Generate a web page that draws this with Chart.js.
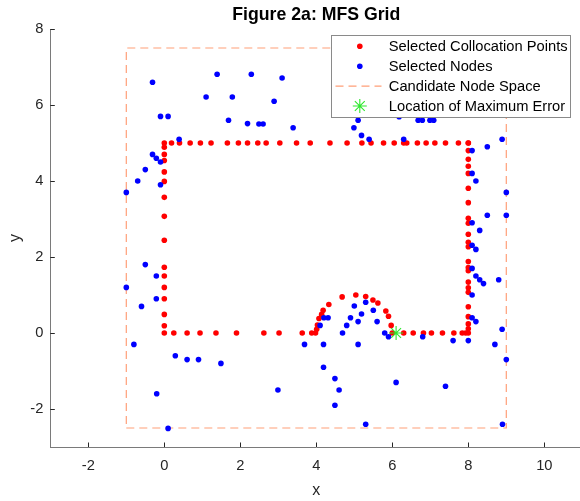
<!DOCTYPE html>
<html>
<head>
<meta charset="utf-8">
<script src="https://cdn.jsdelivr.net/npm/chart.js@4.4.1/dist/chart.umd.min.js"></script>
<style>
html,body{margin:0;padding:0;background:#fff;overflow:hidden;}
#wrap{width:584px;height:501px;}
</style>
</head>
<body>
<div id="wrap"><canvas id="c" width="584" height="501"></canvas></div>
<script>
// ---- Data ----
const titleText = "Figure 2a: MFS Grid";
const seriesLabels = ["Selected Collocation Points", "Selected Nodes", "Candidate Node Space", "Location of Maximum Error"];
const xTicks = [-2, 0, 2, 4, 6, 8, 10];
const yTicks = [-2, 0, 2, 4, 6, 8];

const collocX = [
  0.0, 0.19, 0.4, 0.68, 0.95, 1.23, 1.66, 1.95, 2.19, 2.46, 2.68, 3.04, 3.48, 3.84, 4.36, 4.81, 5.2, 5.44, 5.77, 6.05, 6.3, 6.38, 6.66, 6.89, 7.12, 7.4, 7.74, 8.0,
  0, 0, 0, 0, 0, 0, 0, 0, 0, 0, 0, 0, 0, 0, 0,
  0.25, 0.6, 0.94, 1.36, 1.9, 2.62, 3.02, 3.63, 3.88, 3.98,
  4.01, 4.03, 4.07, 4.14, 4.18, 4.33, 4.68, 5.04, 5.3, 5.49, 5.62, 5.83, 5.9, 5.97, 6.0,
  6.3, 6.55, 6.82, 7.03, 7.32, 7.62, 7.84, 7.93,
  8, 8, 8, 8, 8, 8, 8, 8, 8, 8, 8, 8, 8, 8, 8, 8, 8, 8, 8, 8, 8, 8, 8
];
const collocY = [
  5, 5, 5, 5, 5, 5, 5, 5, 5, 5, 5, 5, 5, 5, 5, 5, 5, 5, 5, 5, 5, 5, 5, 5, 5, 5, 5, 5,
  4.89, 4.7, 4.54, 4.24, 3.99, 3.57, 3.07, 2.44, 1.73, 1.5, 1.2, 0.9, 0.49, 0.19, 0,
  0, 0, 0, 0, 0, 0, 0, 0, 0, 0,
  0.1, 0.21, 0.38, 0.49, 0.6, 0.75, 0.95, 1.0, 0.96, 0.87, 0.79, 0.58, 0.44, 0.2, 0,
  0, 0, 0, 0, 0, 0, 0, 0,
  4.8, 4.57, 4.39, 4.2, 3.81, 3.43, 3.02, 2.89, 2.6, 2.39, 2.27, 1.88, 1.72, 1.64, 1.34, 1.19, 1.07, 0.69, 0.43, 0.24, 0.11, 0, 5
];

const nodeX = [
  -0.31, 1.39, 2.29, 3.1, 1.1, 1.79, 2.89, -0.1, 0.1, 1.69, 2.19, 2.49, 2.6, 3.39, 0.39, -0.31, -0.21, -0.1, -0.5, -0.7, -0.1,
  5.1, 4.99, 5.19, 5.39, 6.3, 6.18, 6.68, 6.79, 6.99, 7.09, 8.5, 8.89, 8.1, 8.1, 8.2,
  -1.0, -0.5, -0.21, -1.0, -0.21, -0.6,
  9.0, 9.0, 8.5, 8.1, 8.3, 8.1, 8.2, 8.1, 8.2, 8.3, 8.4, 8.8, 8.1, 8.1, 8.2, 8.89,
  4.1, 4.2, 4.31, 4.69, 4.8, 4.9, 5.0, 5.1, 5.19, 5.3, 5.5, 5.6, 5.8, 5.9, 6.8, 7.6, 8.0,
  -0.8, 0.29, 0.6, 0.9, 1.49, -0.2, 0.1, 2.99, 3.69, 4.19, 5.1, 8.7, 9.0, 4.19, 4.49, 4.6, 4.49, 5.3, 6.1, 7.4, 8.9
];
const nodeY = [
  6.6, 6.81, 6.81, 6.71, 6.21, 6.21, 6.1, 5.7, 5.7, 5.6, 5.51, 5.5, 5.5, 5.4, 5.1, 4.7, 4.6, 4.5, 4.3, 4.0, 3.9,
  5.6, 5.4, 5.2, 5.1, 5.1, 5.69, 5.6, 5.6, 5.6, 5.6, 4.9, 5.1, 4.8, 4.2, 4.0,
  3.7, 1.8, 1.5, 1.2, 0.9, 0.7,
  3.7, 3.1, 3.1, 2.9, 2.7, 2.31, 2.2, 1.7, 1.5, 1.4, 1.3, 1.4, 1.0, 0.4, 0.3, 0.1,
  0.2, 0.4, 0.4, 0.0, 0.2, 0.4, 0.71, 0.3, 0.5, 0.81, 0.6, 0.3, 0.0, -0.1, -0.1, -0.2, -0.2,
  -0.3, -0.6, -0.7, -0.7, -0.8, -1.6, -2.51, -1.5, -0.3, -0.3, -0.3, -0.3, -0.7, -0.9, -1.2, -1.5, -1.9, -2.4, -1.3, -1.4, -2.4
];

const spaceX = [-1, 9, 9, -1, -1];
const spaceY = [-2.5, -2.5, 7.5, 7.5, -2.5];

const maxErrX = [6.1];
const maxErrY = [0];

// ---- Build ----
const toPts = (xs, ys) => xs.map((x, i) => ({x: x, y: ys[i]}));

const RED = '#ff0000', BLUE = '#0000ff', SALMON = '#ff9f78', GREEN = '#2ee82e';
const FONT = "'Liberation Sans', Arial, Helvetica, sans-serif";

const styleInfo = [
  {kind: 'dot', color: RED},
  {kind: 'dot', color: BLUE},
  {kind: 'dash', color: SALMON},
  {kind: 'star', color: GREEN}
];

const inwardTicks = {
  id: 'inwardTicks',
  afterDatasetsDraw(chart) {
    const ctx = chart.ctx, a = chart.chartArea;
    const xs = chart.scales.x, ys = chart.scales.y;
    ctx.save();
    ctx.strokeStyle = '#262626';
    ctx.lineWidth = 1;
    ctx.beginPath();
    xTicks.forEach(v => {
      const p = Math.round(xs.getPixelForValue(v)) + 0.5;
      ctx.moveTo(p, a.bottom); ctx.lineTo(p, a.bottom - 4.5);
    });
    yTicks.forEach(v => {
      const p = Math.round(ys.getPixelForValue(v)) + 0.5;
      ctx.moveTo(a.left, p); ctx.lineTo(a.left + 4.5, p);
    });
    ctx.stroke();
    ctx.restore();
  }
};

const titleAndLegend = {
  id: 'titleAndLegend',
  afterDraw(chart) {
    const ctx = chart.ctx, a = chart.chartArea;
    ctx.save();
    // title
    ctx.fillStyle = '#000';
    ctx.font = "bold 17.7px " + FONT;
    ctx.textAlign = 'center';
    ctx.textBaseline = 'middle';
    ctx.fillText(titleText, (a.left + a.right) / 2, 15);
    // legend box
    const bx = a.right - 251.5, by = a.top + 6, bw = 239, bh = 82;
    ctx.fillStyle = '#fff';
    ctx.fillRect(bx, by, bw, bh);
    ctx.strokeStyle = '#8a8a8a';
    ctx.lineWidth = 1;
    ctx.strokeRect(Math.round(bx) + 0.5, Math.round(by) + 0.5, bw, bh);
    ctx.font = "14.7px " + FONT;
    ctx.textAlign = 'left';
    ctx.textBaseline = 'middle';
    chart.data.datasets.forEach((ds, i) => {
      const y = by + 11.3 + i * 19.9;
      const mx = bx + 29;
      const st = styleInfo[i];
      if (st.kind === 'dot') {
        ctx.fillStyle = st.color;
        ctx.beginPath(); ctx.arc(mx, y, 2.8, 0, Math.PI * 2); ctx.fill();
      } else if (st.kind === 'dash') {
        ctx.strokeStyle = st.color; ctx.lineWidth = 1.2;
        ctx.setLineDash([8, 5]);
        ctx.beginPath(); ctx.moveTo(bx + 4.7, y); ctx.lineTo(bx + 50.7, y); ctx.stroke();
        ctx.setLineDash([]);
      } else {
        ctx.strokeStyle = st.color; ctx.lineWidth = 1.1;
        ctx.beginPath();
        const r = 7, d = 7 * 0.707;
        ctx.moveTo(mx - r, y); ctx.lineTo(mx + r, y);
        ctx.moveTo(mx, y - r); ctx.lineTo(mx, y + r);
        ctx.moveTo(mx - d, y - d); ctx.lineTo(mx + d, y + d);
        ctx.moveTo(mx - d, y + d); ctx.lineTo(mx + d, y - d);
        ctx.stroke();
      }
      ctx.fillStyle = '#000';
      ctx.fillText(ds.label, bx + 58, y + 0.5);
    });
    ctx.restore();
  }
};

new Chart(document.getElementById('c'), {
  type: 'scatter',
  data: {
    datasets: [
      {label: seriesLabels[0], data: toPts(collocX, collocY), backgroundColor: RED, borderColor: RED,
       pointRadius: 2.8, pointBorderWidth: 0, order: 2},
      {label: seriesLabels[1], data: toPts(nodeX, nodeY), backgroundColor: BLUE, borderColor: BLUE,
       pointRadius: 2.8, pointBorderWidth: 0, order: 1},
      {label: seriesLabels[2], data: toPts(spaceX, spaceY), showLine: true, borderColor: SALMON,
       borderWidth: 1.2, borderDash: [8, 5], pointRadius: 0, fill: false, tension: 0, order: 3},
      {label: seriesLabels[3], data: toPts(maxErrX, maxErrY), pointStyle: 'star', pointRadius: 7,
       borderColor: GREEN, backgroundColor: GREEN, pointBorderWidth: 1.1, order: 0}
    ]
  },
  options: {
    responsive: false,
    animation: false,
    devicePixelRatio: 1,
    layout: {padding: {top: 29, right: 1.7, left: 0, bottom: 0}, autoPadding: false},
    plugins: {legend: {display: false}, tooltip: {enabled: false}, title: {display: false}},
    scales: {
      x: {
        type: 'linear', min: -3, max: 11,
        afterBuildTicks: s => { s.ticks = xTicks.map(v => ({value: v})); },
        afterFit: s => { s.height = 54; },
        grid: {display: false, drawTicks: false},
        border: {display: true, color: '#7a7a7a', width: 1},
        ticks: {padding: 10, color: '#262626',
                font: {family: FONT, size: 14.7}, maxRotation: 0, minRotation: 0, autoSkip: false},
        title: {display: true, text: 'x', color: '#262626', font: {family: FONT, size: 16},
                padding: {top: 0, bottom: 1}}
      },
      y: {
        type: 'linear', min: -3, max: 8,
        afterBuildTicks: s => { s.ticks = yTicks.map(v => ({value: v})); },
        afterFit: s => { s.width = 50.3; },
        grid: {display: false, drawTicks: false},
        border: {display: true, color: '#7a7a7a', width: 1},
        ticks: {padding: 7, color: '#262626',
                font: {family: FONT, size: 14.7}, autoSkip: false},
        title: {display: true, text: 'y', color: '#262626', font: {family: FONT, size: 16},
                padding: {top: 6, bottom: 0}}
      }
    }
  },
  plugins: [inwardTicks, titleAndLegend]
});
</script>
</body>
</html>
